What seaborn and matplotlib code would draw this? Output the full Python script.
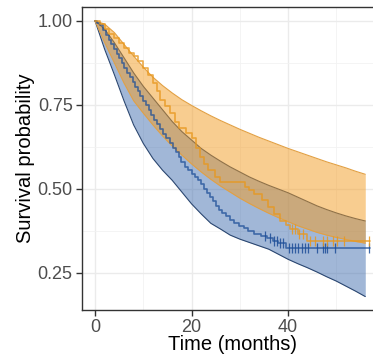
import numpy as np
import pandas as pd
import matplotlib
matplotlib.use("Agg")
import matplotlib.pyplot as plt
import seaborn as sns

# ---------------- data ----------------
blue_km_t = [0.0, 0.5, 1.0, 1.6, 2.2, 2.8, 3.3, 3.9, 4.5, 5.0, 5.6, 6.1, 6.7, 7.2, 7.8, 8.3,
             8.9, 9.4, 10.0, 10.6, 11.1, 11.7, 12.3, 12.9, 13.5, 14.1, 14.8, 15.5, 16.1, 16.7,
             17.3, 17.9, 18.6, 19.3, 20.0, 20.7, 21.3, 22.0, 22.6, 23.2, 23.8, 24.4, 25.0, 25.7,
             26.4, 27.2, 28.0, 28.9, 29.8, 30.8, 31.8, 33.0, 34.3, 35.6, 36.8, 38.0, 39.5, 57.0]
blue_km_s = [1.000, 0.993, 0.986, 0.972, 0.958, 0.944, 0.930, 0.916, 0.902, 0.888, 0.874, 0.860,
             0.846, 0.832, 0.818, 0.804, 0.790, 0.776, 0.762, 0.748, 0.734, 0.720, 0.706, 0.692,
             0.678, 0.664, 0.650, 0.636, 0.622, 0.608, 0.594, 0.580, 0.566, 0.555, 0.545, 0.535,
             0.525, 0.513, 0.500, 0.488, 0.476, 0.462, 0.450, 0.438, 0.428, 0.418, 0.407, 0.398,
             0.390, 0.382, 0.374, 0.366, 0.360, 0.353, 0.345, 0.337, 0.323, 0.323]

orange_km_t = [0.0, 1.0, 2.0, 3.0, 4.0, 5.0, 6.0, 7.0, 8.0, 9.0, 10.0, 11.0, 12.0, 12.8, 13.5,
               14.5, 15.5, 16.5, 17.5, 18.8, 20.0, 21.0, 21.8, 22.5, 23.5, 24.8, 26.0, 31.0,
               32.0, 33.0, 34.5, 35.8, 37.0, 38.3, 39.5, 40.4, 42.0, 43.9, 57.0]
orange_km_s = [1.000, 0.990, 0.975, 0.960, 0.950, 0.935, 0.920, 0.905, 0.895, 0.880, 0.860,
               0.840, 0.815, 0.790, 0.765, 0.745, 0.725, 0.700, 0.680, 0.665, 0.650, 0.620,
               0.595, 0.575, 0.555, 0.535, 0.520, 0.505, 0.495, 0.485, 0.466, 0.445, 0.425,
               0.405, 0.392, 0.380, 0.365, 0.345, 0.345]

blue_cens = [35.2, 36.3, 37.0, 37.7, 38.3, 39.0, 40.1, 40.8, 41.5, 42.1, 42.8, 43.5, 44.2,
             45.9, 47.3, 47.7, 48.0, 49.7, 56.8]
orange_cens = [40.8, 41.5, 42.3, 43.0, 44.6, 45.6, 47.3, 48.0, 49.4, 50.1, 51.5, 56.8]

band_t = [0, 2, 4, 6, 8, 10, 12, 14, 16, 18, 20, 22, 24, 26, 28, 30, 32, 34, 36, 38, 40,
          42, 44, 46, 48, 50, 52, 54, 56]
blue_lo = [1.000, 0.915, 0.840, 0.762, 0.690, 0.635, 0.590, 0.555, 0.525, 0.490, 0.455,
           0.425, 0.397, 0.380, 0.362, 0.350, 0.340, 0.330, 0.320, 0.305, 0.290, 0.277,
           0.265, 0.252, 0.238, 0.225, 0.210, 0.195, 0.179]
blue_hi = [1.000, 0.975, 0.935, 0.890, 0.845, 0.805, 0.770, 0.735, 0.700, 0.670, 0.645,
           0.620, 0.600, 0.582, 0.565, 0.550, 0.535, 0.522, 0.510, 0.499, 0.488, 0.475,
           0.462, 0.449, 0.438, 0.428, 0.419, 0.411, 0.404]
orange_lo = [1.000, 0.935, 0.875, 0.815, 0.762, 0.725, 0.690, 0.657, 0.627, 0.600, 0.574,
             0.550, 0.528, 0.508, 0.490, 0.472, 0.456, 0.441, 0.427, 0.414, 0.402, 0.390,
             0.380, 0.370, 0.362, 0.355, 0.349, 0.343, 0.338]
orange_hi = [1.000, 0.990, 0.965, 0.930, 0.895, 0.862, 0.832, 0.807, 0.785, 0.765, 0.748,
             0.732, 0.717, 0.703, 0.690, 0.677, 0.665, 0.653, 0.642, 0.631, 0.620, 0.610,
             0.600, 0.590, 0.580, 0.571, 0.562, 0.552, 0.543]

x_ticks = [0, 20, 40]
y_ticks = [0.25, 0.50, 0.75, 1.00]
x_title = "Time (months)"
y_title = "Survival probability"

# ---------------- styling ----------------
sns.set_style("white")
plt.rcParams["font.family"] = ["Liberation Sans", "DejaVu Sans"]

BLUE = "#1D4E98"
BLUE_FILL = "#4470B0"
BLUE_EDGE = "#2A4670"
ORANGE = "#E8981E"
ORANGE_FILL = "#F39C22"
ORANGE_EDGE = "#E2A043"

fig = plt.figure(figsize=(3.73, 3.57), dpi=100)
W, H = 373, 357
ax = fig.add_axes([81.7 / W, 47 / H, (373 - 81.7) / W, (310 - 7) / H])

bands = pd.DataFrame({"t": band_t, "blue_lo": blue_lo, "blue_hi": blue_hi,
                      "orange_lo": orange_lo, "orange_hi": orange_hi})

# blue ribbon
ax.fill_between(bands["t"], bands["blue_lo"], bands["blue_hi"], color=BLUE_FILL,
                alpha=0.5, lw=0, zorder=2)
sns.lineplot(data=bands, x="t", y="blue_lo", color=BLUE_EDGE, lw=0.8, ax=ax, zorder=3)
sns.lineplot(data=bands, x="t", y="blue_hi", color=BLUE_EDGE, lw=0.8, ax=ax, zorder=3)

# orange ribbon
ax.fill_between(bands["t"], bands["orange_lo"], bands["orange_hi"], color=ORANGE_FILL,
                alpha=0.5, lw=0, zorder=4)
sns.lineplot(data=bands, x="t", y="orange_lo", color=ORANGE_EDGE, lw=0.8, ax=ax, zorder=5)
sns.lineplot(data=bands, x="t", y="orange_hi", color=ORANGE_EDGE, lw=0.8, ax=ax, zorder=5)

# KM curves
blue_df = pd.DataFrame({"t": blue_km_t, "s": blue_km_s})
orange_df = pd.DataFrame({"t": orange_km_t, "s": orange_km_s})
sns.lineplot(data=blue_df, x="t", y="s", color=BLUE, lw=1.2, alpha=0.75,
             drawstyle="steps-post", estimator=None, ax=ax, zorder=6)
sns.lineplot(data=orange_df, x="t", y="s", color=ORANGE, lw=1.2, alpha=0.8,
             drawstyle="steps-post", estimator=None, ax=ax, zorder=7)


def step_at(times, surv, q):
    idx = np.searchsorted(np.asarray(times), np.asarray(q), side="right") - 1
    return np.asarray(surv)[idx]


bc = pd.DataFrame({"t": blue_cens, "s": step_at(blue_km_t, blue_km_s, blue_cens)})
oc = pd.DataFrame({"t": orange_cens, "s": step_at(orange_km_t, orange_km_s, orange_cens)})
sns.scatterplot(data=bc, x="t", y="s", marker="|", s=50, color=BLUE, linewidth=0.9,
                alpha=0.85, ax=ax, zorder=8)
sns.scatterplot(data=oc, x="t", y="s", marker="|", s=50, color=ORANGE, linewidth=0.9,
                alpha=0.85, ax=ax, zorder=8)

# axes
ax.set_xlim(-2.76, 57.6)
ax.set_ylim(0.139, 1.041)
ax.set_xticks(x_ticks)
ax.set_yticks(y_ticks)
ax.set_yticklabels([f"{v:.2f}" for v in y_ticks])
ax.set_xticks([10, 30, 50], minor=True)
ax.set_yticks([0.375, 0.625, 0.875], minor=True)
ax.grid(True, which="major", color="#EBEBEB", lw=1.0, zorder=0)
ax.grid(True, which="minor", color="#F2F2F2", lw=0.6, zorder=0)
ax.set_axisbelow(True)

for side in ["left", "bottom", "top"]:
    ax.spines[side].set_color("#333333")
    ax.spines[side].set_linewidth(1.0)
ax.spines["right"].set_visible(False)

ax.tick_params(axis="both", which="major", length=4, width=1.0, color="#333333",
               labelsize=13, labelcolor="#4D4D4D", pad=2.5, bottom=True, left=True)
ax.tick_params(axis="both", which="minor", length=0)

ax.set_xlabel(x_title, fontsize=14.5, color="black")
ax.set_ylabel(y_title, fontsize=14.5, color="black")
ax.xaxis.set_label_coords((233 - 81.7) / (373 - 81.7), -25 / 303)
ax.yaxis.set_label_coords(-46.7 / (373 - 81.7), 0.5)

fig.savefig("out.png", dpi=100)
